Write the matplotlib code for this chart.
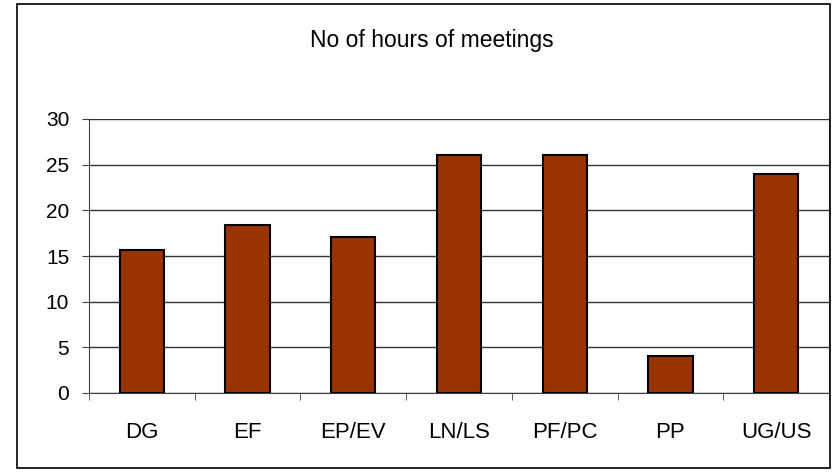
import matplotlib.pyplot as plt
from matplotlib.patches import Rectangle

plt.rcParams['font.family'] = ['Liberation Sans', 'DejaVu Sans']

categories = ['DG', 'EF', 'EP/EV', 'LN/LS', 'PF/PC', 'PP', 'UG/US']
hours = [15.65, 18.4, 17.05, 26.1, 26.1, 4.1, 24.0]
y_ticks = [0, 5, 10, 15, 20, 25, 30]

W, H = 832, 472
fig = plt.figure(figsize=(W / 100, H / 100), dpi=100)
ax = fig.add_axes([89 / W, 1 - 393 / H, (829 - 89) / W, (393 - 119) / H])

# outer chart border
fig.patches.append(Rectangle((17 / W, 4 / H), (830 - 17) / W, (468 - 4) / H,
                             transform=fig.transFigure, fill=False,
                             edgecolor='black', linewidth=1.2))

x = range(len(categories))
ax.bar(x, hours, width=0.42, color='#993300', edgecolor='black', linewidth=1.5, zorder=3)

ax.set_xlim(-0.5, len(categories) - 0.5)
ax.set_ylim(0, 30)
ax.set_yticks(y_ticks)
ax.yaxis.grid(True, color='#333333', linewidth=1.0, zorder=0)

ax.set_xticks(x)
ax.set_xticklabels(categories)
ax.set_xticks([i - 0.5 for i in range(len(categories) + 1)], minor=True)
ax.tick_params(axis='x', which='major', length=0, pad=21, labelsize=16)
ax.tick_params(axis='x', which='minor', length=5, direction='out', color='#404040')
ax.tick_params(axis='y', length=5.3, direction='out', color='#404040', labelsize=15, pad=9)

ax.spines['top'].set_visible(False)
ax.spines['right'].set_color('#808080')
ax.spines['left'].set_color('#404040')
ax.spines['bottom'].set_color('#404040')

fig.text(432 / W, 1 - 40 / H, 'No of hours of meetings', ha='center', va='center', fontsize=16.5)

fig.savefig('out.png', dpi=100)
